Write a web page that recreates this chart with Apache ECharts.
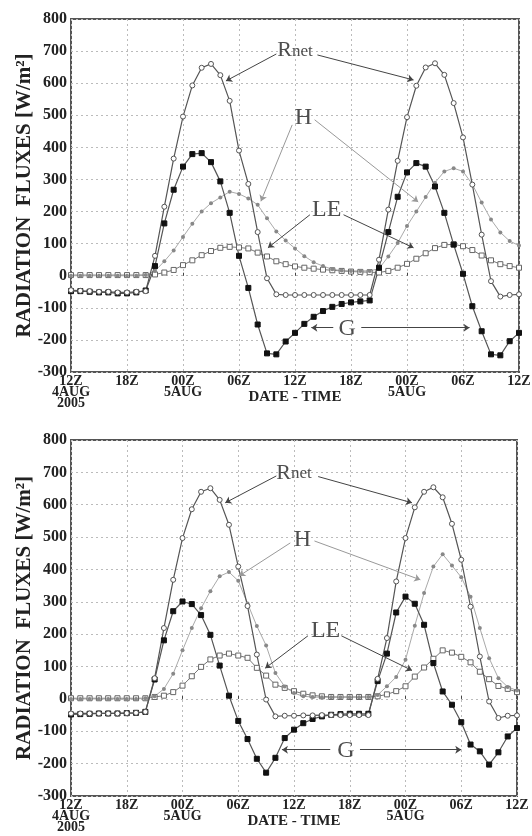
<!DOCTYPE html>
<html>
<head>
<meta charset="utf-8">
<script src="https://cdn.jsdelivr.net/npm/echarts/dist/echarts.min.js"></script>
<style>
  html, body { margin: 0; padding: 0; background: #fff; }
  #chart { width: 532px; height: 836px; }
</style>
</head>
<body>
<div id="chart"></div>
<script>
// hourly values, 12Z 4AUG 2005 .. 12Z 6AUG (49 points)
var xTickLabels = ['12Z\n4AUG\n2005', '18Z', '00Z\n5AUG', '06Z', '12Z', '18Z', '00Z\n5AUG', '06Z', '12Z'];
var yTicks = [-300, -200, -100, 0, 100, 200, 300, 400, 500, 600, 700, 800];

// upper panel
var rnetTop = [-45,-47,-48,-50,-50,-52,-52,-50,-48,
  62,215,365,496,593,648,660,625,545,390,286,136,-8,
  -58,-60,-60,-60,-60,-60,-60,-60,-60,-60,-60,
  50,206,358,494,592,649,662,626,538,431,284,128,-17,-65,-60,-58];
var gTop = [-48,-48,-50,-52,-52,-55,-55,-52,-46,
  30,163,268,340,379,382,354,294,196,62,-38,-152,-242,
  -245,-205,-178,-150,-128,-110,-97,-88,-83,-80,-77,
  25,136,246,322,351,340,278,196,97,6,-95,-173,-245,-248,-204,-178];
var hTop = [0,0,0,0,0,0,0,0,2,
  15,45,79,121,162,200,226,244,262,255,241,221,179,138,110,85,
  61,42,30,20,16,15,15,15,
  22,60,102,155,200,245,290,325,335,325,285,228,175,135,108,94];
var leTop = [2,2,2,2,2,2,2,2,2,
  4,10,18,33,48,64,77,87,90,88,85,72,60,45,36,29,
  25,22,19,17,15,13,12,11,
  10,15,25,37,53,70,86,96,98,92,80,63,48,36,30,25];

// lower panel
var rnetBot = [-45,-45,-45,-45,-45,-45,-44,-43,-40,
  64,219,368,497,586,640,651,615,538,409,287,137,-2,
  -54,-52,-52,-51,-51,-50,-50,-50,-50,-50,-50,
  62,188,363,497,592,640,654,623,541,430,285,131,-8,-59,-52,-51];
var gBot = [-48,-47,-46,-45,-45,-45,-44,-43,-40,
  60,181,271,301,293,259,198,103,10,-68,-124,-185,-228,
  -182,-121,-95,-75,-62,-54,-49,-47,-46,-46,-46,
  55,140,267,316,294,229,111,23,-18,-72,-141,-162,-203,-165,-116,-90];
var hBot = [0,0,0,0,0,0,0,0,2,
  8,31,78,150,219,280,333,379,392,365,295,225,165,80,38,18,
  8,6,5,5,5,5,5,6,
  12,39,68,121,226,327,409,447,412,376,316,219,126,64,37,26];
var leBot = [2,2,2,2,2,2,2,2,2,
  6,10,21,41,70,99,122,134,140,134,127,96,72,44,34,24,
  16,11,8,6,6,6,6,6,
  8,14,24,39,69,97,124,150,143,130,113,84,61,40,31,21];

// annotation text positions [hour, value] and pointer lines
var notesTop = { rnet: [24, 700], h: [24.9, 491], le: [27.4, 206], g: [29.6, -165] };
var arrowsTop = {
  rnet: [[[22.0, 691], [16.6, 607]], [[26.4, 688], [36.7, 610]]],
  h: [[[23.7, 470], [20.35, 232]], [[26.1, 486], [37.2, 230]]],
  le: [[[25.6, 190], [21.1, 87]], [[29.2, 190], [36.7, 87]]],
  g: [[[28.1, -162], [25.75, -162]], [[31.1, -162], [42.7, -162]]]
};
var notesBot = { rnet: [24, 697], h: [24.9, 491], le: [27.4, 211], g: [29.6, -160] };
var arrowsBot = {
  rnet: [[[22.1, 689], [16.6, 606]], [[26.6, 687], [36.7, 606]]],
  h: [[[23.6, 482], [18.1, 380]], [[26.2, 488], [37.6, 368]]],
  le: [[[25.5, 195], [20.9, 95]], [[29.1, 195], [36.7, 88]]],
  g: [[[27.9, -157], [22.7, -157]], [[31.1, -157], [42.0, -157]]]
};

var serif = 'Liberation Serif';

function pairs(arr) {
  return arr.map(function (v, i) { return [i, v]; });
}

function arrowData(list, color) {
  return list.map(function (seg) {
    return [{ coord: seg[0], lineStyle: { color: color } }, { coord: seg[1] }];
  });
}

function xAxisCfg(gi) {
  return {
    gridIndex: gi, type: 'value', min: 0, max: 48, interval: 6,
    name: 'DATE - TIME', nameLocation: 'middle', nameGap: 18, nameMoveOverlap: false,
    nameTextStyle: { fontFamily: serif, fontWeight: 'bold', fontSize: 15, color: '#222' },
    axisLine: { show: false },
    axisTick: { show: true, inside: true, length: 3, lineStyle: { color: '#444' } },
    axisLabel: {
      fontFamily: serif, fontWeight: 'bold', fontSize: 14, color: '#222', lineHeight: 11, margin: 4,
      formatter: function (v) { return xTickLabels[v / 6]; }
    },
    splitLine: { show: true, lineStyle: { color: '#bbb', type: [2, 3], width: 1 } }
  };
}

function yAxisCfg(gi) {
  return {
    gridIndex: gi, type: 'value', min: yTicks[0], max: yTicks[yTicks.length - 1], interval: 100,
    name: 'RADIATION  FLUXES [W/m\u00b2]', nameLocation: 'middle', nameGap: 36, nameRotate: 90,
    nameMoveOverlap: false,
    nameTextStyle: { fontFamily: serif, fontWeight: 'bold', fontSize: 21, color: '#222' },
    axisLine: { show: false },
    axisTick: { show: false },
    axisLabel: { fontFamily: serif, fontWeight: 'bold', fontSize: 16, color: '#222', margin: 4 },
    splitLine: { show: true, lineStyle: { color: '#bbb', type: [2, 3], width: 1 } }
  };
}

function panelSeries(gi, rnet, g, h, le, notes, arrows) {
  var base = { type: 'line', xAxisIndex: gi, yAxisIndex: gi, showSymbol: true, showAllSymbol: true, animation: false };
  return [
    Object.assign({}, base, {
      name: 'LE', data: pairs(le), symbol: 'rect', symbolSize: 5,
      lineStyle: { color: '#777', width: 1 },
      itemStyle: { color: '#fff', borderColor: '#666', borderWidth: 1 }
    }),
    Object.assign({}, base, {
      name: 'H', data: pairs(h), symbol: 'circle', symbolSize: 4,
      lineStyle: { color: '#aaa', width: 1 },
      itemStyle: { color: '#888', borderColor: '#888', borderWidth: 0 }
    }),
    Object.assign({}, base, {
      name: 'G', data: pairs(g), symbol: 'rect', symbolSize: 5,
      lineStyle: { color: '#555', width: 1.2 },
      itemStyle: { color: '#111', borderColor: '#111' }
    }),
    Object.assign({}, base, {
      name: 'Rnet', data: pairs(rnet), symbol: 'circle', symbolSize: 5,
      lineStyle: { color: '#555', width: 1.2 },
      itemStyle: { color: '#fff', borderColor: '#555', borderWidth: 1 },
      markLine: {
        silent: true, animation: false, symbol: ['none', 'arrow'], symbolSize: 6,
        label: { show: false },
        lineStyle: { type: 'solid', width: 1, color: '#444' },
        data: arrowData(arrows.rnet, '#444')
          .concat(arrowData(arrows.h, '#999'))
          .concat(arrowData(arrows.le, '#444'))
          .concat(arrowData(arrows.g, '#444'))
      }
    }),
    {
      type: 'scatter', xAxisIndex: gi, yAxisIndex: gi, symbolSize: 1, silent: true, animation: false,
      itemStyle: { color: 'rgba(0,0,0,0)' }, z: 5,
      label: {
        show: true, position: 'inside', color: '#222', fontFamily: serif,
        rich: {
          big: { fontFamily: serif, fontSize: 22, color: '#222', verticalAlign: 'bottom', lineHeight: 21 },
          sm: { fontFamily: serif, fontSize: 17, color: '#222', verticalAlign: 'bottom', lineHeight: 17,
            padding: [0, 0, 2, 0] },
          let: { fontFamily: serif, fontSize: 24, color: '#222' }
        }
      },
      data: [
        { value: notes.rnet, label: { formatter: '{big|R}{sm|net}' } },
        { value: notes.h, label: { formatter: '{let|H}' } },
        { value: notes.le, label: { formatter: '{let|LE}' } },
        { value: notes.g, label: { formatter: '{let|G}' } }
      ]
    }
  ];
}

var chart = echarts.init(document.getElementById('chart'), null, { renderer: 'canvas' });
var option = {
  backgroundColor: '#fff',
  animation: false,
  grid: [
    { left: 71, top: 19, width: 448, height: 353, show: true, borderColor: '#555', borderWidth: 2,
      backgroundColor: '#fff', outerBoundsMode: 'none' },
    { left: 71, top: 440, width: 446, height: 356, show: true, borderColor: '#555', borderWidth: 2,
      backgroundColor: '#fff', outerBoundsMode: 'none' }
  ],
  xAxis: [xAxisCfg(0), xAxisCfg(1)],
  yAxis: [yAxisCfg(0), yAxisCfg(1)],
  series: panelSeries(0, rnetTop, gTop, hTop, leTop, notesTop, arrowsTop)
    .concat(panelSeries(1, rnetBot, gBot, hBot, leBot, notesBot, arrowsBot))
};
chart.setOption(option);
</script>
</body>
</html>
